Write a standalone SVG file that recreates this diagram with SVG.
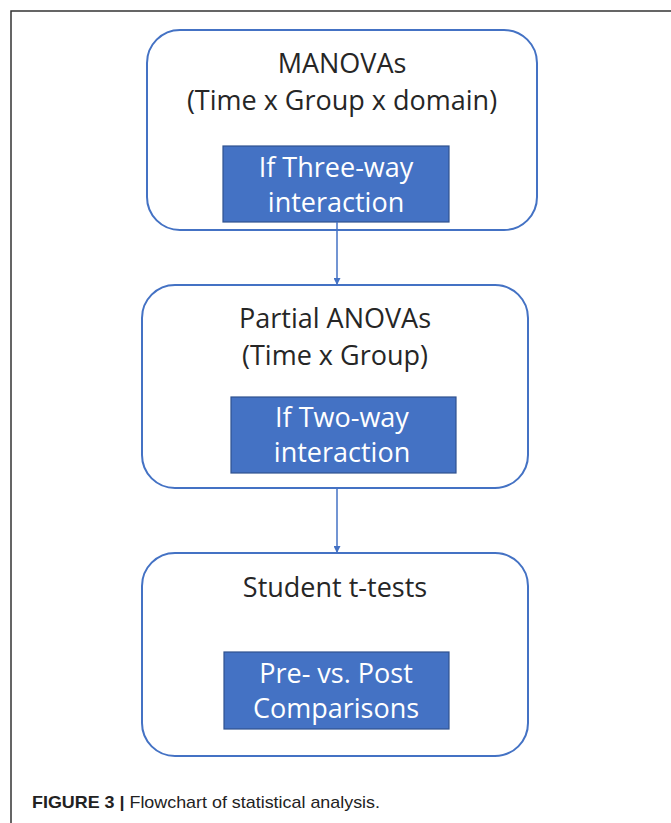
<svg xmlns="http://www.w3.org/2000/svg" width="671" height="823" viewBox="0 0 671 823">
<defs>
<style>
.frame{stroke:#333;stroke-width:1.5;fill:none}
.outer{fill:#fff;stroke:#4472C4;stroke-width:2}
.inner{fill:#4472C4;stroke:#2F528F;stroke-width:1.2}
.t{font-family:"Open Sans","Noto Sans",sans-serif;font-size:27px;fill:#262626;text-anchor:middle}
.w{font-family:"Open Sans","Noto Sans",sans-serif;font-size:27px;fill:#fff;text-anchor:middle}
.edge{stroke:#4472C4;stroke-width:1.5;fill:none}
.cap{font-family:"Liberation Sans",Arial,sans-serif;font-size:17px;fill:#222}
</style>
<marker id="ah" viewBox="0 0 10 10" refX="10" refY="5" markerWidth="7" markerHeight="7" markerUnits="userSpaceOnUse" orient="auto">
<path d="M0,0 L10,5 L0,10 z" fill="#4472C4"/>
</marker>
</defs>
<rect width="671" height="823" fill="#fff"/>
<path class="frame" d="M11,823 L11,11 L671,11"/>
<g id="n1">
<rect class="outer" x="147" y="30" width="390" height="200" rx="33"/>
<text class="t" x="342" y="73">MANOVAs</text>
<text class="t" x="342" y="110">(Time x Group x domain)</text>
</g>
<g id="n1b">
<rect class="inner" x="223" y="146" width="226" height="76"/>
<text class="w" x="336" y="177">If Three-way</text>
<text class="w" x="336" y="212">interaction</text>
</g>
<g id="n2">
<rect class="outer" x="142" y="285" width="386" height="203" rx="33"/>
<text class="t" x="335" y="328">Partial ANOVAs</text>
<text class="t" x="335" y="365">(Time x Group)</text>
</g>
<g id="n2b">
<rect class="inner" x="231" y="397" width="225" height="76"/>
<text class="w" x="342" y="427">If Two-way</text>
<text class="w" x="342" y="462">interaction</text>
</g>
<g id="n3">
<rect class="outer" x="142" y="553" width="386" height="203" rx="33"/>
<text class="t" x="335" y="597">Student t-tests</text>
</g>
<g id="n3b">
<rect class="inner" x="224" y="652" width="225" height="77"/>
<text class="w" x="336" y="683">Pre- vs. Post</text>
<text class="w" x="336" y="718">Comparisons</text>
</g>
<g id="edges">
<line class="edge" x1="337" y1="222" x2="337" y2="285" marker-end="url(#ah)"/>
<line class="edge" x1="337" y1="488" x2="337" y2="553" marker-end="url(#ah)"/>
</g>
<text class="cap" x="32" y="808" textLength="348" lengthAdjust="spacingAndGlyphs"><tspan font-weight="bold">FIGURE 3 | </tspan>Flowchart of statistical analysis.</text>
</svg>
